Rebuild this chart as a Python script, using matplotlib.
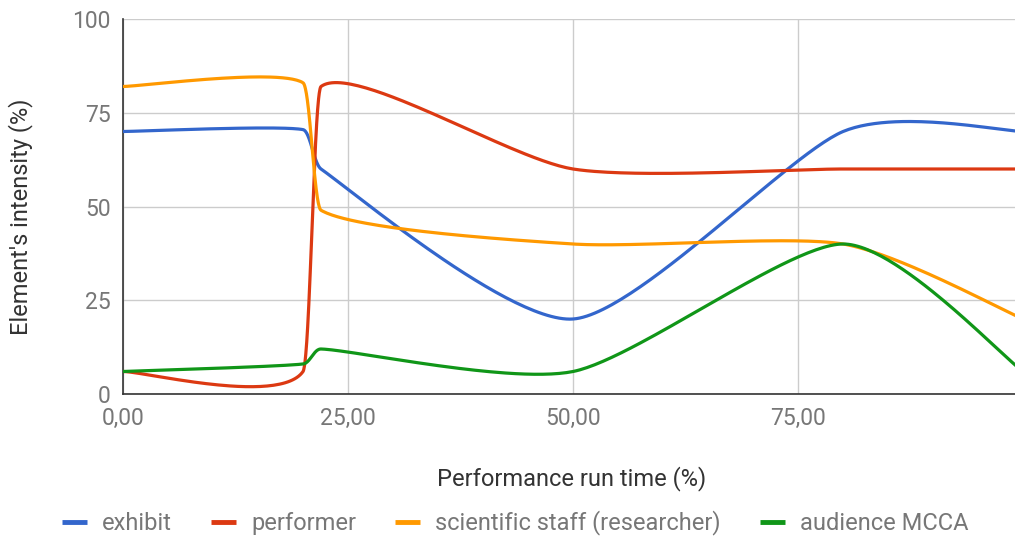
import numpy as np
import matplotlib
matplotlib.use("Agg")
import matplotlib.pyplot as plt
from matplotlib.lines import Line2D

plt.rcParams['font.family'] = ['Roboto', 'DejaVu Sans']

# data
run_time = [0, 20, 22, 50, 80, 100]
exhibit = [70, 70.5, 60, 20, 70, 70]
performer = [6, 6, 82, 60, 60, 60]
scientific_staff = [82, 83, 49, 40, 40, 20]
audience = [6, 8, 12, 6, 40, 6]

names = ["exhibit", "performer", "scientific staff (researcher)", "audience MCCA"]
colors = ["#3366cc", "#dc3912", "#ff9900", "#109618"]
x_ticks = [0, 25, 50, 75]
x_labels = ["0,00", "25,00", "50,00", "75,00"]
y_ticks = [0, 25, 50, 75, 100]


def smooth(xs, ys, k=0.12, n=60):
    # bezier smoothing like a "function" curve type, handles kept inside each gap
    p = np.column_stack([xs, ys]).astype(float)
    m = len(p)
    tan = []
    for i in range(m):
        if i == 0:
            tan.append(p[1] - p[0])
        elif i == m - 1:
            tan.append(p[-1] - p[-2])
        else:
            tan.append(p[i + 1] - p[i - 1])

    def handle(i, gap):
        h = k * tan[i]
        lim = 0.4 * gap
        if abs(h[0]) > lim:
            h = h * lim / abs(h[0])
        return h

    out = []
    t = np.linspace(0, 1, n)[:, None]
    for i in range(m - 1):
        gap = p[i + 1, 0] - p[i, 0]
        a = p[i]
        b = p[i] + handle(i, gap)
        c = p[i + 1] - handle(i + 1, gap)
        d = p[i + 1]
        seg = (1 - t) ** 3 * a + 3 * (1 - t) ** 2 * t * b + 3 * (1 - t) * t ** 2 * c + t ** 3 * d
        out.append(seg if i == 0 else seg[1:])
    out = np.vstack(out)
    return out[:, 0], out[:, 1]


fig = plt.figure(figsize=(10.15, 5.4), dpi=100)
ax = fig.add_axes([123 / 1015, 1 - 394 / 540, 1 - 123 / 1015, 375 / 540])

for ys, col in zip([exhibit, performer, scientific_staff, audience], colors):
    sx, sy = smooth(run_time, ys)
    ax.plot(sx, sy, color=col, lw=2.3, solid_capstyle='round', zorder=3)

ax.set_xlim(0, 99.1)
ax.set_ylim(0, 100)
ax.set_xticks(x_ticks)
ax.set_xticklabels(x_labels)
ax.set_yticks(y_ticks)
ax.grid(True, color="#cccccc", lw=1)
ax.set_axisbelow(True)
for s in ["top", "right"]:
    ax.spines[s].set_visible(False)
ax.spines["left"].set_color("#333333")
ax.spines["bottom"].set_color("#333333")
ax.spines["left"].set_linewidth(1.2)
ax.spines["bottom"].set_linewidth(1.2)
ax.tick_params(length=0, labelsize=16.5, labelcolor="#777777")
ax.tick_params(axis="y", pad=9)
ax.tick_params(axis="x", pad=9)

fig.text(21 / 1015, 1 - 217 / 540, "Element's intensity (%)", rotation=90,
         ha="center", va="center", fontsize=17, color="#333333")
fig.text(572 / 1015, 1 - 479 / 540, "Performance run time (%)",
         ha="center", va="center", fontsize=17, color="#333333")

handles = [Line2D([], [], color=c, lw=3.5, solid_capstyle='butt') for c in colors]
fig.legend(handles, names, loc="center", bbox_to_anchor=(515 / 1015, 1 - 523 / 540),
           ncol=4, frameon=False, handlelength=1.06, handletextpad=0.64,
           columnspacing=1.65, fontsize=17, labelcolor="#777777",
           borderpad=0, borderaxespad=0)

fig.savefig("out.png", dpi=100)
